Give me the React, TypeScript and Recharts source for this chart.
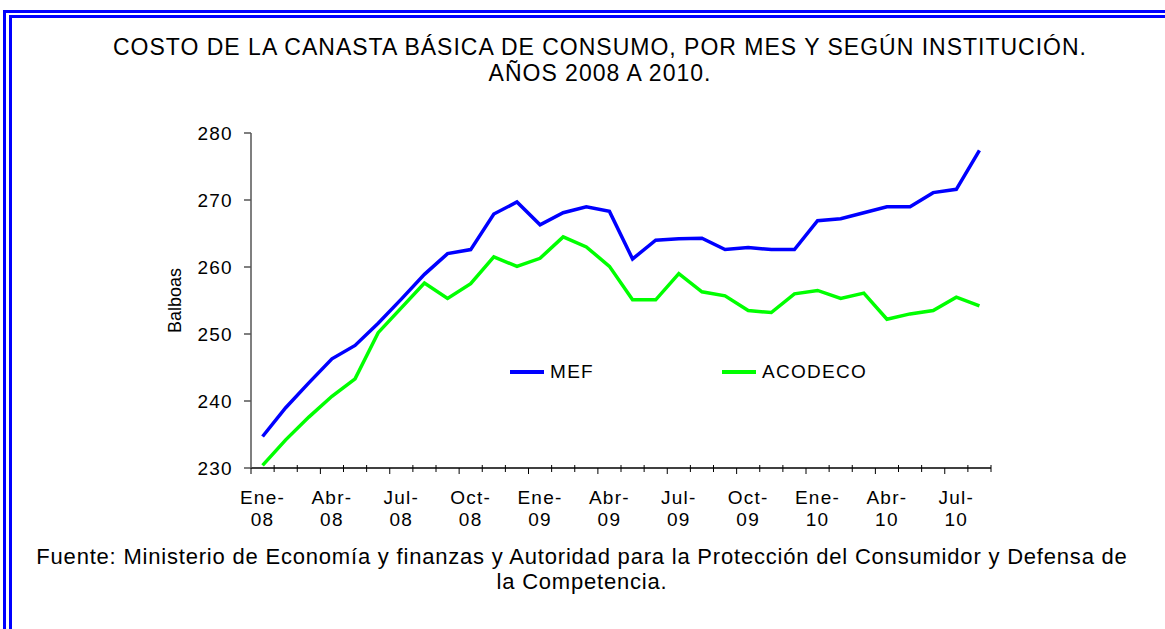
import { Legend, Line, LineChart, XAxis, YAxis } from "recharts"

// months Ene-08 .. Ago-10
const months = [
  "Ene-08", "Feb-08", "Mar-08", "Abr-08", "May-08", "Jun-08", "Jul-08", "Ago-08", "Sep-08", "Oct-08", "Nov-08", "Dic-08",
  "Ene-09", "Feb-09", "Mar-09", "Abr-09", "May-09", "Jun-09", "Jul-09", "Ago-09", "Sep-09", "Oct-09", "Nov-09", "Dic-09",
  "Ene-10", "Feb-10", "Mar-10", "Abr-10", "May-10", "Jun-10", "Jul-10", "Ago-10",
]

const mef = [
  234.7, 239.0, 242.7, 246.3, 248.3, 251.6, 255.2, 258.9, 262.0, 262.6, 267.9, 269.7,
  266.3, 268.1, 269.0, 268.3, 261.2, 264.0, 264.2, 264.3, 262.6, 262.9, 262.6, 262.6,
  266.9, 267.2, 268.1, 269.0, 269.0, 271.1, 271.6, 277.4,
]

const acodeco = [
  230.4, 234.2, 237.6, 240.7, 243.3, 250.2, 253.9, 257.6, 255.3, 257.5, 261.5, 260.1,
  261.3, 264.5, 263.0, 260.1, 255.1, 255.1, 259.0, 256.3, 255.7, 253.5, 253.2, 256.0,
  256.5, 255.3, 256.1, 252.2, 253.0, 253.5, 255.5, 254.2,
]

const yTicks = [230, 240, 250, 260, 270, 280]

const FONT = '"Liberation Sans", Arial, sans-serif'
const PLOT_W = 740
const STEP = PLOT_W / months.length

const data = months.map((m, i) => ({ mes: m, MEF: mef[i], ACODECO: acodeco[i] }))

function MonthTick(props: any) {
  const { x, y, payload } = props
  const i: number = props.index ?? payload.index
  const [mes, anio] = months[i].split("-")
  // tick marks sit on category boundaries, every 3rd one hangs down only
  const bounds = [{ k: i, tx: x - STEP / 2 }]
  if (i === months.length - 1) bounds.push({ k: i + 1, tx: x + STEP / 2 })
  return (
    <g>
      {bounds.map((b) => (
        <line
          key={b.k}
          x1={b.tx}
          x2={b.tx}
          y1={b.k % 3 === 0 ? y : y - 3}
          y2={b.k % 3 === 0 ? y + 6 : y + 4}
          stroke="#000"
          strokeWidth={1}
        />
      ))}
      {i % 3 === 0 && (
        <text x={x} y={y} textAnchor="middle" fill="#000" fontSize={19} fontFamily={FONT} letterSpacing={1.3}>
          <tspan x={x} dy={35.7}>{mes + "-"}</tspan>
          <tspan x={x} dy={22.5}>{anio}</tspan>
        </text>
      )}
    </g>
  )
}

function LegendBox() {
  const items = [
    { name: "MEF", color: "#0000FF", left: 0 },
    { name: "ACODECO", color: "#00FF00", left: 212 },
  ]
  return (
    <div style={{ position: "relative", height: 0, fontFamily: FONT, fontSize: 19, letterSpacing: 1.3 }}>
      {items.map((it) => (
        <div key={it.name} style={{ position: "absolute", left: it.left, top: 0, display: "flex", alignItems: "center", height: 24 }}>
          <div style={{ width: 34, height: 4, background: it.color, marginRight: 6 }} />
          <span style={{ color: "#000" }}>{it.name}</span>
        </div>
      ))}
    </div>
  )
}

export default function App() {
  return (
    <div style={{ position: "absolute", left: 0, top: 0, width: 1165, height: 629, overflow: "hidden", background: "#fff", fontFamily: FONT }}>
      <div style={{ position: "absolute", left: 3, top: 10, width: 2000, height: 2000, border: "3px solid #0000FF", boxSizing: "border-box" }} />
      <div style={{ position: "absolute", left: 9, top: 15, width: 2000, height: 2000, border: "3px solid #0000FF", boxSizing: "border-box" }} />

      <div style={{ position: "absolute", left: 100, top: 34, width: 1000, textAlign: "center", fontSize: 23, lineHeight: "26px", letterSpacing: 1, color: "#000" }}>
        COSTO DE LA CANASTA BÁSICA DE CONSUMO, POR MES Y SEGÚN INSTITUCIÓN.
        <br />
        AÑOS 2008 A 2010.
      </div>

      <div style={{ position: "absolute", left: 150, top: 120 }}>
        <LineChart width={870} height={430} data={data} margin={{ top: 13, right: 29, left: 0, bottom: 0 }}>
          <XAxis
            dataKey="mes"
            scale="band"
            interval={0}
            height={82}
            tickSize={0}
            tickMargin={0}
            tickLine={false}
            axisLine={{ stroke: "#000", strokeWidth: 1.5 }}
            tick={<MonthTick />}
          />
          <YAxis
            domain={[230, 280]}
            ticks={yTicks}
            width={101}
            tickSize={7}
            tickMargin={11}
            axisLine={{ stroke: "#555", strokeWidth: 1.5 }}
            tickLine={{ stroke: "#555", strokeWidth: 1.5 }}
            tick={{ fill: "#000", fontSize: 19, fontFamily: FONT, letterSpacing: 1.3 }}
            label={{ value: "Balboas", angle: -90, position: "insideLeft", offset: 25, style: { textAnchor: "middle", fill: "#000", fontSize: 18, fontFamily: FONT } }}
          />
          <Legend
            content={<LegendBox />}
            wrapperStyle={{ position: "absolute", left: 360, top: 240, width: 400, height: 0 }}
          />
          <Line type="linear" dataKey="MEF" stroke="#0000FF" strokeWidth={3.5} dot={false} isAnimationActive={false} />
          <Line type="linear" dataKey="ACODECO" stroke="#00FF00" strokeWidth={3.5} dot={false} isAnimationActive={false} />
        </LineChart>
      </div>

      <div style={{ position: "absolute", left: 0, top: 544, width: 1164, textAlign: "center", fontSize: 22, lineHeight: "25px", letterSpacing: 0.8, color: "#000" }}>
        Fuente: Ministerio de Economía y finanzas y Autoridad para la Protección del Consumidor y Defensa de
        <br />
        la Competencia.
      </div>
    </div>
  )
}
